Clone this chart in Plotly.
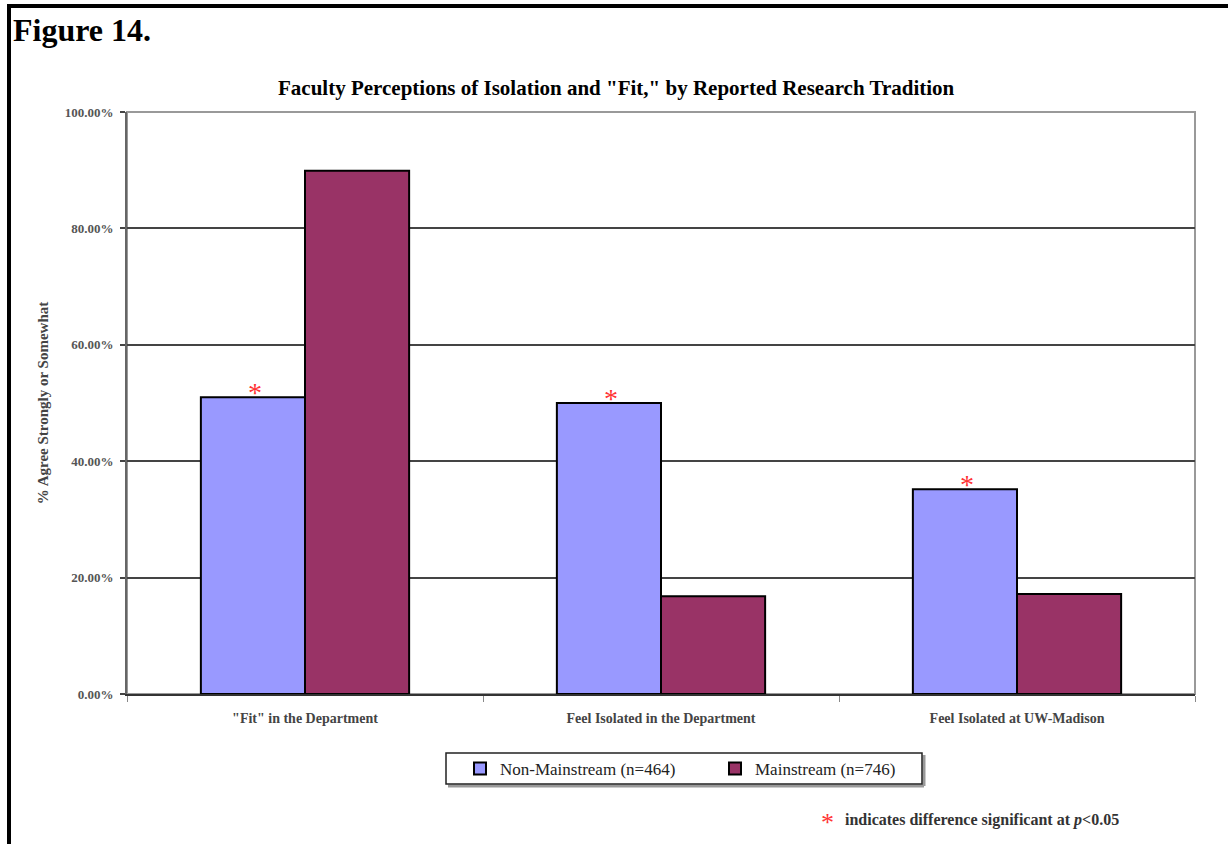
import plotly.graph_objects as go

categories = ['"Fit" in the Department', 'Feel Isolated in the Department', 'Feel Isolated at UW-Madison']
non_mainstream = [51.0, 50.0, 35.2]
mainstream = [89.9, 16.8, 17.2]
series_names = ["Non-Mainstream (n=464)", "Mainstream (n=746)"]
significant = [True, True, True]
y_ticks = [0, 20, 40, 60, 80, 100]
y_tick_labels = ["0.00%", "20.00%", "40.00%", "60.00%", "80.00%", "100.00%"]

W, H = 1228, 844
ML, MR, MT, MB = 127, 33, 112, 150
plot_w = W - ML - MR
plot_h = H - MT - MB
BARGAP = 0.415
bar_px = plot_w / len(categories) * (1 - BARGAP) / 2

serif = "Liberation Serif, Times New Roman, serif"


def px(x):
    return (x - ML) / plot_w


def py(y):
    return (H - MB - y) / plot_h


fig = go.Figure()
fig.add_trace(go.Bar(x=categories, y=non_mainstream, name=series_names[0],
                     marker=dict(color="#9999FF", line=dict(color="black", width=2))))
fig.add_trace(go.Bar(x=categories, y=mainstream, name=series_names[1],
                     marker=dict(color="#993366", line=dict(color="black", width=2))))

annotations = []
for c, v, s in zip(categories, non_mainstream, significant):
    if s:
        annotations.append(dict(x=c, y=v, xref="x", yref="y", text="*", showarrow=False,
                                xshift=-bar_px / 2 + 2, yshift=5, yanchor="middle",
                                font=dict(family=serif, size=28, color="#FF3333")))

annotations += [
    dict(text="<b>Figure 14.</b>", x=px(11), y=py(30), xref="paper", yref="paper",
         xanchor="left", yanchor="middle", showarrow=False, font=dict(family=serif, size=32, color="black")),
    dict(text="<b>Faculty Perceptions of Isolation and \"Fit,\" by Reported Research Tradition</b>",
         x=px(616), y=py(88), xref="paper", yref="paper",
         xanchor="center", yanchor="middle", showarrow=False, font=dict(family=serif, size=21, color="black")),
    dict(text="*", x=px(836), y=py(822), xref="paper", yref="paper",
         xanchor="right", yanchor="middle", showarrow=False, font=dict(family=serif, size=26, color="#FF3333")),
    dict(text="<b>indicates difference significant at <i>p</i><0.05</b>", x=px(843),
         y=py(820), xref="paper", yref="paper",
         xanchor="left", yanchor="middle", showarrow=False, font=dict(family=serif, size=16, color="#333")),
]

shapes = [
    # plot frame
    dict(type="rect", xref="paper", yref="paper", x0=0, y0=0, x1=1, y1=1,
         line=dict(color="#999999", width=2), layer="below"),
    # legend box with shadow
    dict(type="line", xref="paper", yref="paper", x0=px(448), x1=px(924), y0=py(786), y1=py(786),
         line=dict(color="#999999", width=3)),
    dict(type="line", xref="paper", yref="paper", x0=px(924), x1=px(924), y0=py(755), y1=py(786),
         line=dict(color="#999999", width=3)),
    dict(type="rect", xref="paper", yref="paper", x0=px(446), x1=px(922), y0=py(753), y1=py(784),
         line=dict(color="#222222", width=1.5)),
    # page border top and left
    dict(type="line", xref="paper", yref="paper", x0=px(7), x1=px(W + 5),
         y0=py(6), y1=py(6), line=dict(color="black", width=4)),
    dict(type="line", xref="paper", yref="paper", x0=px(9), x1=px(9),
         y0=py(4), y1=py(H + 5), line=dict(color="black", width=4)),
]

fig.update_layout(
    width=W, height=H,
    margin=dict(l=ML, r=MR, t=MT, b=MB, autoexpand=False),
    paper_bgcolor="white", plot_bgcolor="white",
    barmode="group", bargap=BARGAP, bargroupgap=0,
    showlegend=True,
    legend=dict(orientation="h", x=px(460), y=py(769),
                xanchor="left", yanchor="middle",
                borderwidth=0, bgcolor="rgba(0,0,0,0)",
                font=dict(family=serif, size=17, color="#222"),
                itemwidth=30, entrywidthmode="pixels", entrywidth=210),
    annotations=annotations, shapes=shapes,
    font=dict(family=serif),
)
fig.update_yaxes(range=[0, 100], tickvals=y_ticks, ticktext=y_tick_labels,
                 showgrid=True, gridcolor="#444", gridwidth=2,
                 showline=True, linecolor="#666", linewidth=2,
                 ticks="outside", ticklen=5, tickcolor="#444", tickwidth=2,
                 ticklabelstandoff=4,
                 tickfont=dict(family=serif, size=13, color="#555", weight="bold"),
                 title=dict(text="<b>% Agree Strongly or Somewhat</b>", standoff=12,
                            font=dict(family=serif, size=15, color="#444")),
                 zeroline=False)
fig.update_xaxes(showline=True, linecolor="#333", linewidth=2,
                 ticks="outside", tickson="boundaries", ticklen=6, tickcolor="#888", tickwidth=1,
                 ticklabelstandoff=10,
                 tickfont=dict(family=serif, size=14, color="#444", weight="bold"),
                 showgrid=False)

fig.write_html("out.html", config={"displayModeBar": False},
               post_script="document.body.style.margin='0';")
